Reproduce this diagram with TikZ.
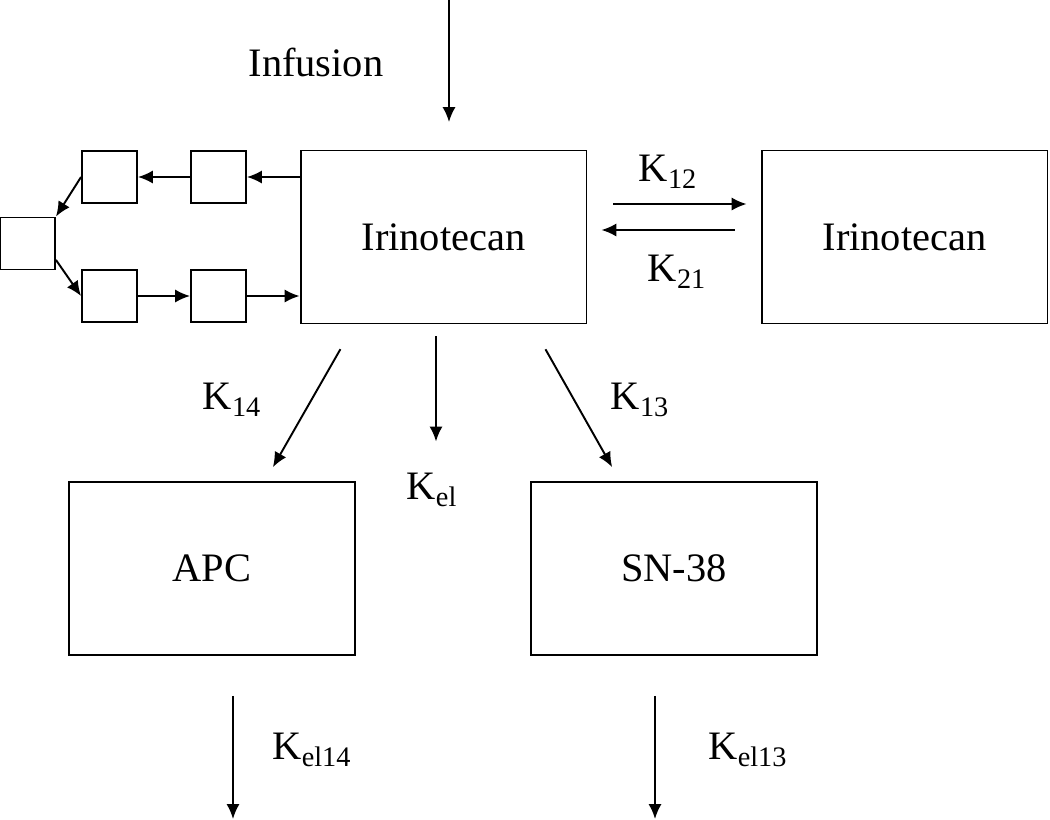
\documentclass[tikz,border=0pt]{standalone}
\usepackage{fontspec}
\setmainfont{Liberation Serif}
\usetikzlibrary{arrows.meta}
\tikzset{
  comp/.style={draw,line width=1.1pt,minimum width=5.72cm,minimum height=3.46cm,inner sep=0pt},
  cell/.style={draw,line width=1.1pt,minimum width=1.1cm,minimum height=1.04cm,inner sep=0pt},
  flow/.style={-{Latex[length=8.5pt,width=7.5pt]},line width=1.1pt}
}
\begin{document}
\begin{tikzpicture}[x=0.02cm,y=-0.02cm,font=\fontsize{23}{27}\selectfont]
\useasboundingbox (0,0) rectangle (1050,819);
% compartments
\node[comp](main) at (443.5,237){Irinotecan};
\node[comp](periph) at (904.5,237){Irinotecan};
\node[comp](apc) at (212,568.5){APC};
\node[comp](sn) at (674,568.5){SN-38};
% small cells on the left
\node[cell](a1) at (109.5,177){};
\node[cell](a2) at (218.5,177){};
\node[cell](c) at (27.5,243.5){};
\node[cell](b1) at (109.5,296){};
\node[cell](b2) at (218.5,296){};
\draw[flow](a2.east -| main.west)--(a2.east);
\draw[flow](a2.west)--(a1.east);
\draw[flow](a1.west)--(c.north east);
\draw[flow](c.-30)--(b1.west);
\draw[flow](b1.east)--(b2.west);
\draw[flow](b2.east)--(b2.east -| main.west);
% infusion
\coordinate(inf) at (449,0);
\draw[flow](inf)--++(0,122);
\node(linf) at (316,62){Infusion};
% exchange
\draw[flow,shorten <=0.52cm,shorten >=0.28cm]([yshift=0.66cm]main.east)--([yshift=0.66cm]periph.west);
\draw[flow,shorten <=0.52cm,shorten >=0.28cm]([yshift=0.14cm]periph.west)--([yshift=0.14cm]main.east);
\node(lk12) at (668,172){K\textsubscript{12}};
\node(lk21) at (677,272){K\textsubscript{21}};
% metabolism and elimination
\draw[flow,shorten <=0.57cm,shorten >=0.32cm]([xshift=1.1cm]main.south west)--([xshift=1.06cm]apc.north);
\draw[flow,shorten <=0.57cm,shorten >=0.32cm]([xshift=-1.12cm]main.south east)--([xshift=-1.08cm]sn.north);
\draw[flow]([xshift=-0.15cm,yshift=-0.24cm]main.south)--++(0,105);
\node(lk14) at (232,400){K\textsubscript{14}};
\node(lk13) at (640,400){K\textsubscript{13}};
\node(lkel) at (432,490){K\textsubscript{el}};
\draw[flow]([xshift=0.42cm,yshift=-0.8cm]apc.south)--++(0,123);
\draw[flow]([xshift=-0.38cm,yshift=-0.8cm]sn.south)--++(0,123);
\node(lkel14) at (312,750){K\textsubscript{el14}};
\node(lkel13) at (748,750){K\textsubscript{el13}};
\end{tikzpicture}
\end{document}
